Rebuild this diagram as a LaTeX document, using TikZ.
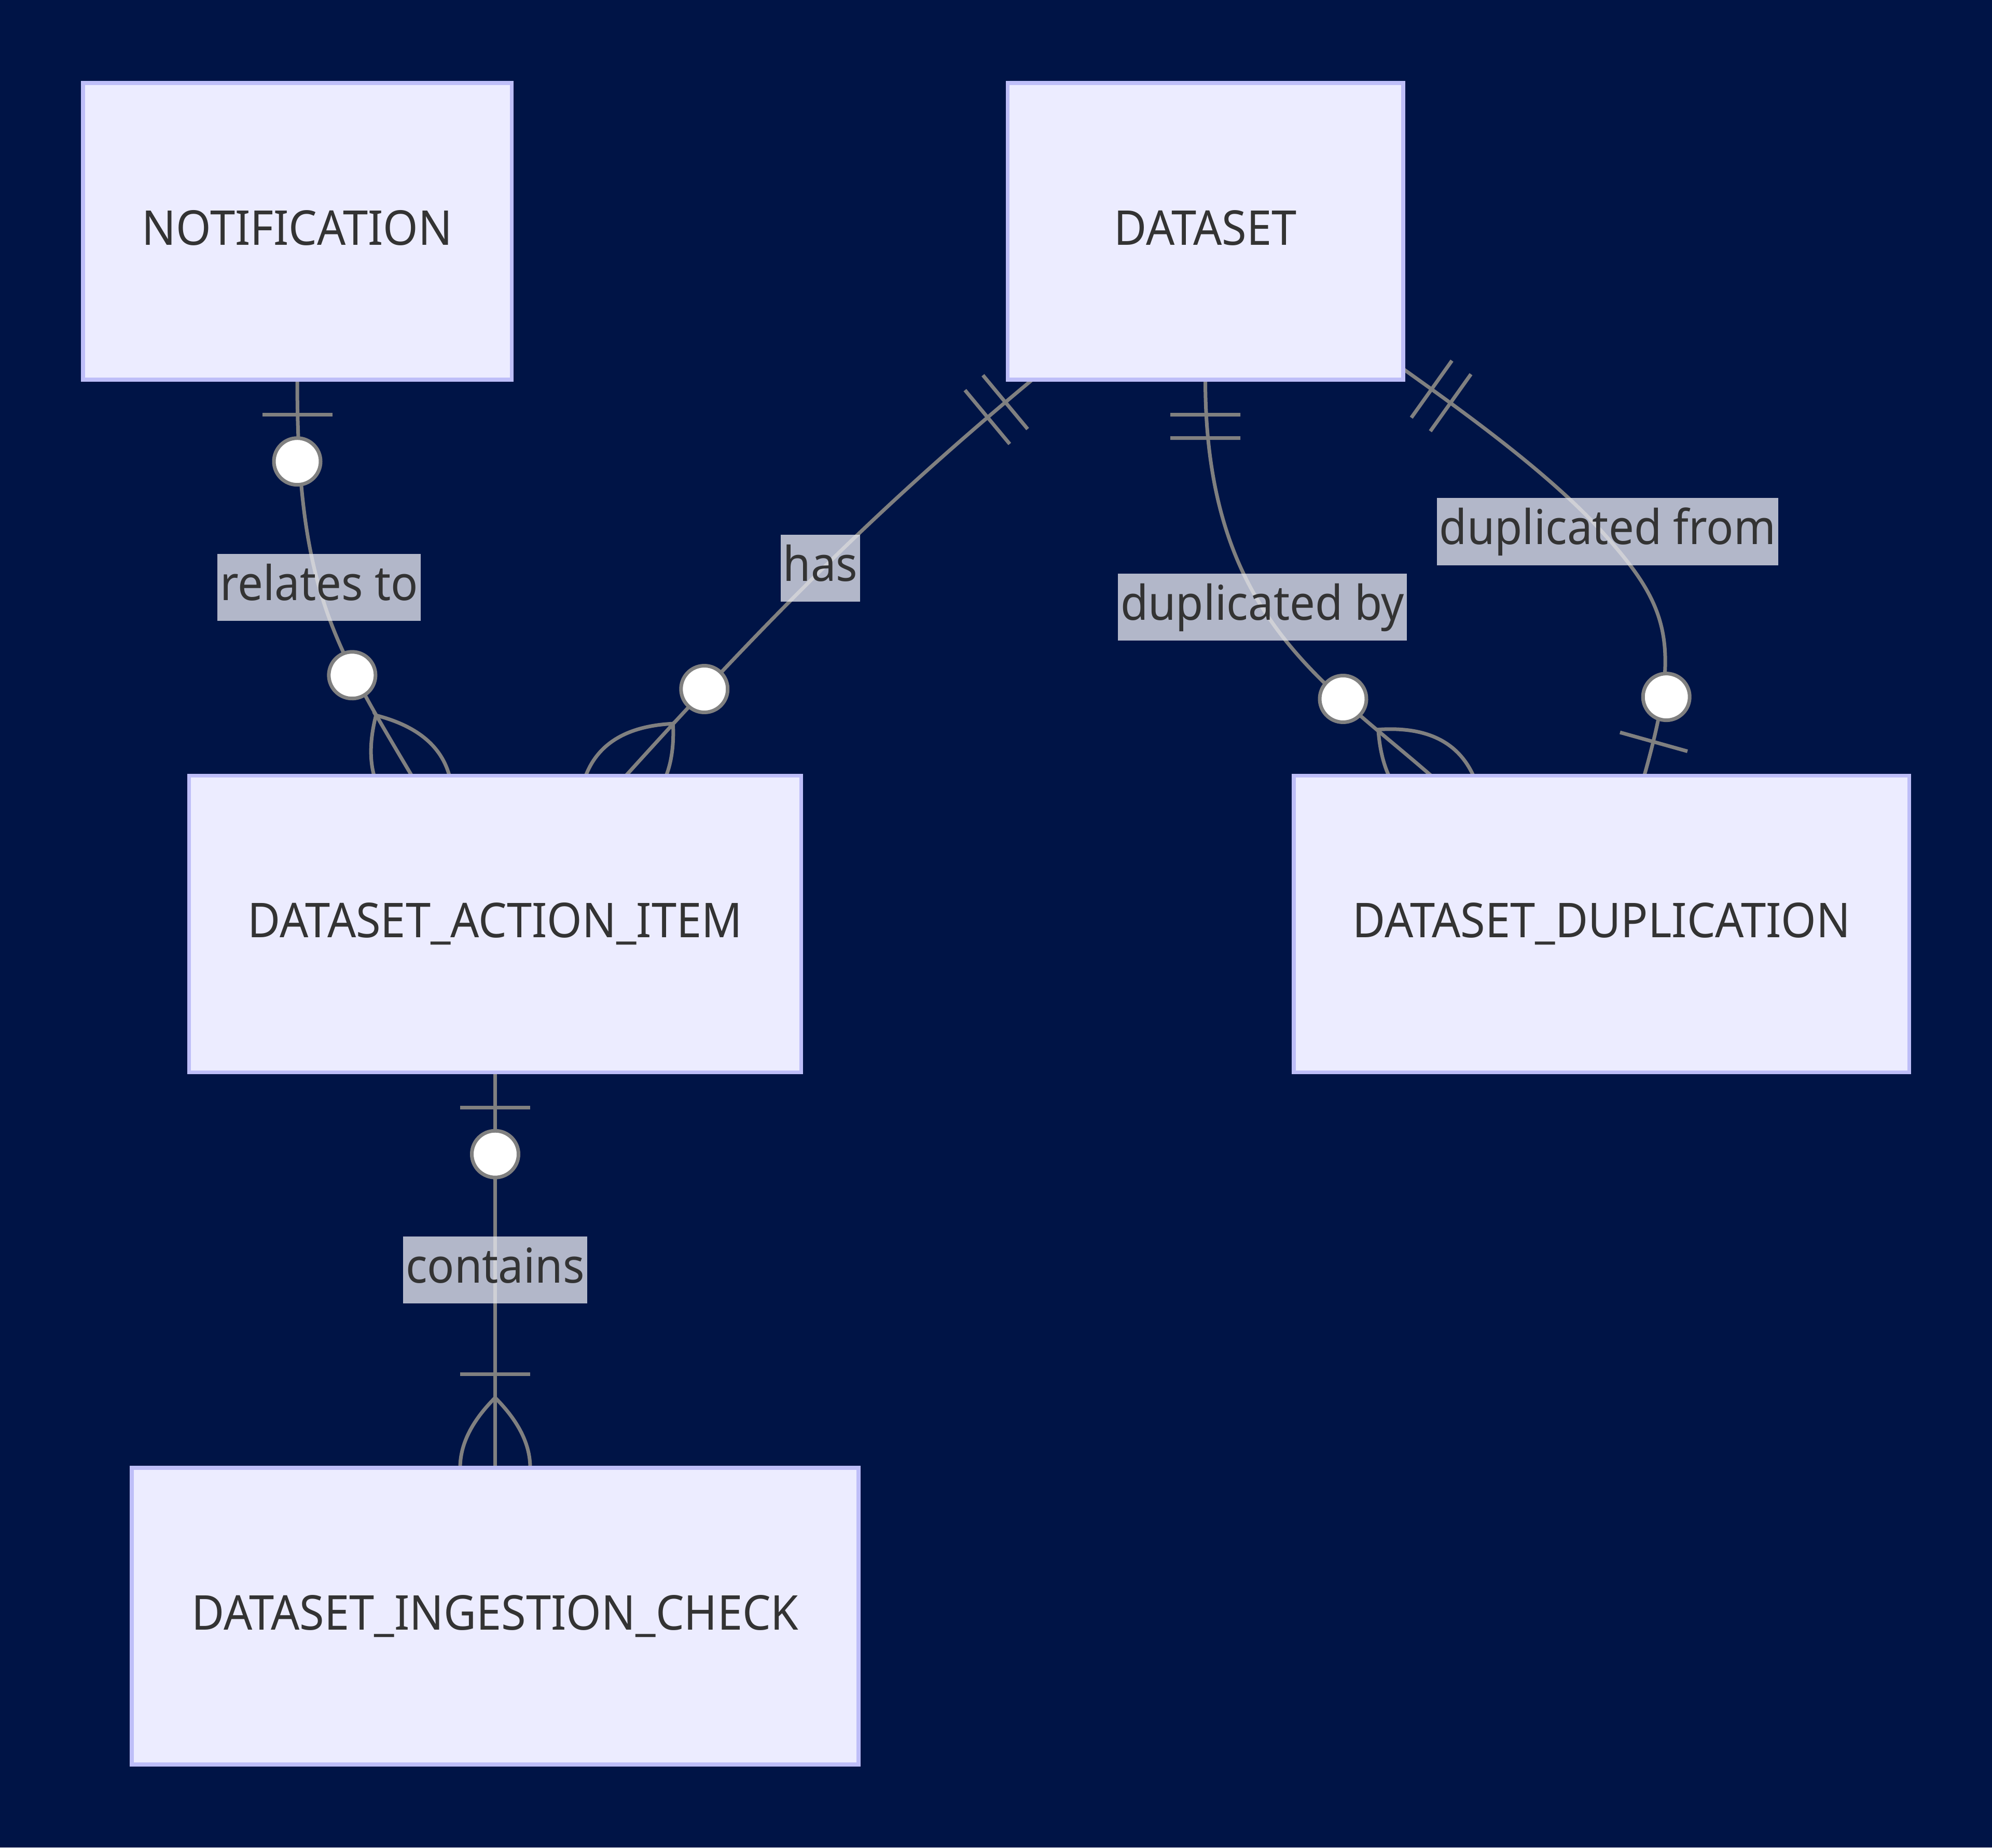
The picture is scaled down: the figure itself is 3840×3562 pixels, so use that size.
\documentclass[tikz,border=0pt]{standalone}
\usepackage{fontspec}
\usepackage{tikz}
\usetikzlibrary{calc,decorations.markings}
\newfontfamily\erfont[FakeStretch=0.937]{Noto Sans}

\definecolor{navy}{HTML}{001446}
\definecolor{boxfill}{HTML}{ECECFF}
\definecolor{boxline}{HTML}{BEBEF8}
\definecolor{linkgray}{HTML}{808080}
\definecolor{ink}{HTML}{333333}
\definecolor{tagfill}{HTML}{E8E9F1}

\pgfdeclarelayer{back}
\pgfdeclarelayer{links}
\pgfsetlayers{back,links,main}

\def\ru{7.5}
\tikzset{
  entity/.style={draw=boxline, fill=boxfill, line width=0.075cm, outer sep=0pt, inner sep=0pt,
    minimum height=5.72cm, text=ink, font=\erfont\fontsize{26.3}{32}\selectfont,
    text height=0.70cm, text depth=0.18cm},
  tag/.style={fill=tagfill, fill opacity=0.77, text opacity=1, text=ink, inner xsep=0.05cm, inner ysep=0pt,
    font=\erfont\fontsize{26.3}{32}\selectfont, text height=0.89cm, text depth=0.40cm},
  link/.style={draw=linkgray, line width=0.07cm},
  tickline/.style={draw=linkgray, line width=0.07cm},
  ring/.style={draw=linkgray, line width=0.07cm, fill=white},
  % cardinality markers, laid along the link
  only one/.pic={\draw[tickline] (9*\ru,-9*\ru) -- (9*\ru,9*\ru) (15*\ru,-9*\ru) -- (15*\ru,9*\ru);},
  zero one start/.pic={\draw[tickline] (9*\ru,-9*\ru) -- (9*\ru,9*\ru);
    \draw[ring] (21*\ru,0) circle [radius=6*\ru];},
  zero one end/.pic={\draw[tickline] (-9*\ru,-9*\ru) -- (-9*\ru,9*\ru);
    \draw[ring] (-21*\ru,0) circle [radius=6*\ru];},
  zero many end/.pic={\draw[ring] (-30*\ru,0) circle [radius=6*\ru];
    \draw[tickline] (-18*\ru,0) .. controls (-6*\ru,-12*\ru) and (6*\ru,-12*\ru) .. (18*\ru,0)
      .. controls (6*\ru,12*\ru) and (-6*\ru,12*\ru) .. cycle;},
  one many end/.pic={\draw[tickline] (-24*\ru,-9*\ru) -- (-24*\ru,9*\ru);
    \draw[tickline] (-18*\ru,0) .. controls (-6*\ru,-12*\ru) and (6*\ru,-12*\ru) .. (18*\ru,0)
      .. controls (6*\ru,12*\ru) and (-6*\ru,12*\ru) .. cycle;},
  ends/.style 2 args={postaction={decorate}, decoration={markings,
    mark=at position 0 with {\pic[transform shape] {#1};},
    mark=at position 0.9999 with {\pic[transform shape] {#2};}}},
}

\begin{document}
\begin{tikzpicture}[x=0.01cm, y=-0.01cm]
    \useasboundingbox (0,0) rectangle (3840,3562);
    \begin{pgfonlayer}{back}
        \fill[navy] (0,0) rectangle (3840,3562);
    \end{pgfonlayer}

    % Entities
    \node[entity, minimum width=8.26cm] (notif) at (573,446) {NOTIFICATION};
    \node[entity, minimum width=7.62cm] (dataset) at (2323.5,446) {DATASET};
    \node[entity, minimum width=11.79cm] (dai) at (954.5,1781.5) {DATASET\_ACTION\_ITEM};
    \node[entity, minimum width=11.855cm] (dd) at (3087.25,1781.5) {DATASET\_DUPLICATION};
    \node[entity, minimum width=14cm] (dic) at (954.5,3116) {DATASET\_INGESTION\_CHECK};

    % Relationship labels
    \node[tag] (relates) at (615.2,1132.5) {relates to};
    \node[tag] (has) at (1581.5,1095.5) {has};
    \node[tag] (dupby) at (2433.5,1170.8) {duplicated by};
    \node[tag] (dupfrom) at (3099,1025) {duplicated from};
    \node[tag] (contains) at (954.5,2448.5) {contains};

    \coordinate (dai-a) at ($(dai.north west)+(429,0)$);
    \coordinate (dai-b) at ($(dai.north west)+(842,0)$);
    \coordinate (ds-a) at ($(dataset.south west)+(47.5,0)$);
    \coordinate (ds-b) at ($(dataset.south east)+(0,-21)$);
    \coordinate (dd-a) at ($(dd.north west)+(264.5,0)$);
    \coordinate (dd-b) at ($(dd.north west)+(675.5,0)$);
    \coordinate (dup-mid) at (3088,1025);

    % Links
    \begin{pgfonlayer}{links}
    \draw[link, ends={zero one start}{zero many end}] (notif.south) .. controls +(0,400) and +(-153,-258) .. (dai-a);
    \draw[link, ends={only one}{zero many end}] (ds-a) .. controls +(-308,256) and +(268.4,-296.4) .. (dai-b);
    \draw[link, ends={only one}{zero many end}] (dataset.south) .. controls +(0,450) and +(-211.1,-184) .. (dd-a);
    \draw[link, ends={only one}{zero one end}] (ds-b) .. controls +(122.2,87) and +(-100.8,-111.2) .. (dup-mid)
        .. controls +(134.4,148.2) and +(70.2,-250.4) .. (dd-b);
    \draw[link, ends={zero one start}{one many end}] (dai.south) -- (dic.north);
    \end{pgfonlayer}
\end{tikzpicture}
\end{document}
